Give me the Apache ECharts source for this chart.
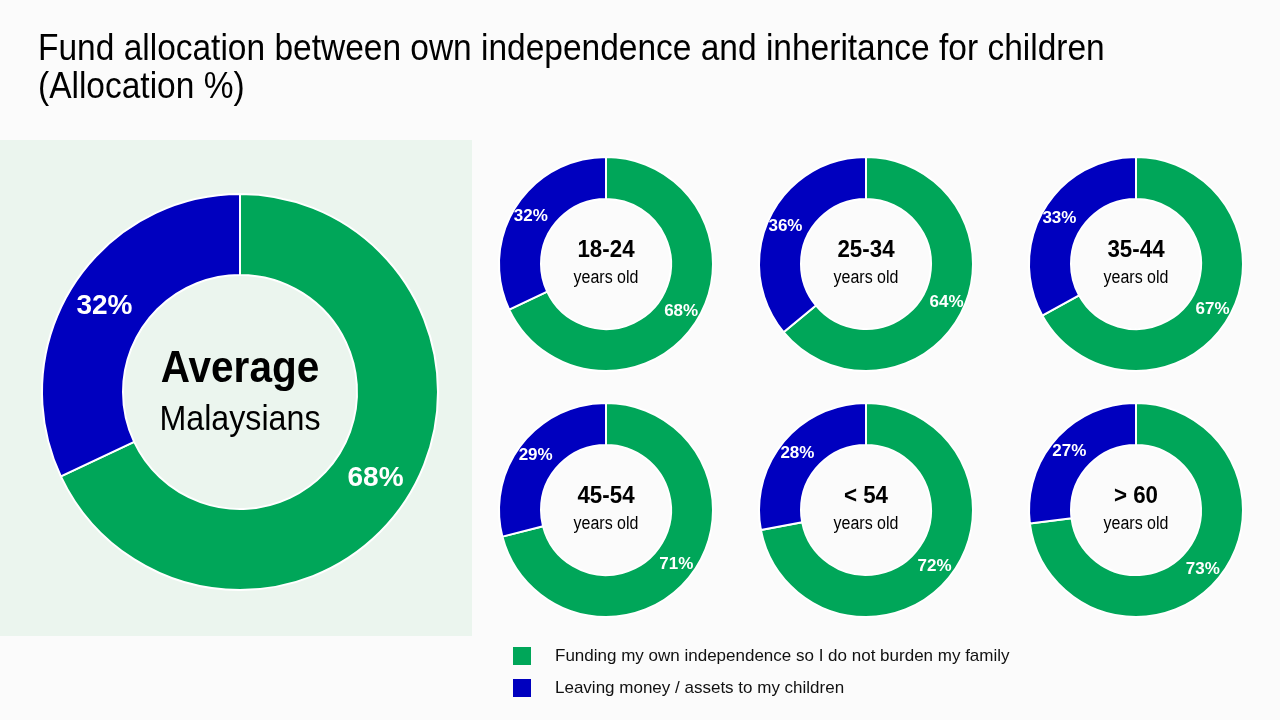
<!DOCTYPE html>
<html>
<head>
<meta charset="utf-8">
<script src="https://cdn.jsdelivr.net/npm/echarts@6/dist/echarts.min.js"></script>
<style>
  html, body { margin: 0; padding: 0; background: #fbfbfb; }
  #chart { width: 1280px; height: 720px; }
</style>
</head>
<body>
<div id="chart"></div>
<script>
const seriesNames = ['Funding my own independence so I do not burden my family', 'Leaving money / assets to my children'];
const seriesColors = ['#00a659', '#0000bf'];

const averageLabel = ['Average', 'Malaysians'];
const averageValues = [68, 32];

const ageGroups = ['18-24', '25-34', '35-44', '45-54', '< 54', '> 60'];
const ownIndependence = [68, 64, 67, 71, 72, 73];
const toChildren = [32, 36, 33, 29, 28, 27];

// no narrow font installed, so Liberation Sans is squeezed a bit horizontally
const FONT = "'Liberation Sans', Arial, sans-serif";

// donut positions
const smallCentersX = [606, 866, 1136];
const smallCentersY = [264, 510];

const chart = echarts.init(document.getElementById('chart'));

function donut(center, radius, values, labelSize) {
  return {
    type: 'pie',
    center: center,
    radius: radius,
    startAngle: 90,
    clockwise: true,
    silent: true,
    itemStyle: { borderColor: '#ffffff', borderWidth: 2 },
    label: {
      show: true,
      position: 'inside',
      formatter: '{c}%',
      color: '#ffffff',
      fontFamily: FONT,
      fontWeight: 'bold',
      fontSize: labelSize
    },
    labelLine: { show: false },
    data: values.map((v, i) => ({ name: seriesNames[i], value: v, itemStyle: { color: seriesColors[i] } }))
  };
}

function narrowText(x, y, text, size, bold, align, scale) {
  return {
    type: 'text', x: x, y: y, scaleX: scale,
    style: { text: text, fontFamily: FONT, fontWeight: bold ? 'bold' : 'normal', fontSize: size, fill: '#000', align: align, verticalAlign: 'middle' }
  };
}

const series = [donut([240, 392], [117, 198], averageValues, 28)];
const graphic = [
  { type: 'rect', z: -10, shape: { x: 0, y: 140, width: 472, height: 496 }, style: { fill: '#ebf5ee' } },
  narrowText(38, 50, 'Fund allocation between own independence and inheritance for children', 37, false, 'left', 0.905),
  narrowText(38, 88, '(Allocation %)', 37, false, 'left', 0.905),
  narrowText(240, 370, averageLabel[0], 45, true, 'center', 0.9),
  narrowText(240, 420, averageLabel[1], 35, false, 'center', 0.92)
];

ageGroups.forEach((g, i) => {
  const cx = smallCentersX[i % 3];
  const cy = smallCentersY[Math.floor(i / 3)];
  series.push(donut([cx, cy], [65, 107], [ownIndependence[i], toChildren[i]], 17));
  graphic.push(
    narrowText(cx, cy - 14, g, 24, true, 'center', 0.93),
    narrowText(cx, cy + 14, 'years old', 18, false, 'center', 0.89)
  );
});

chart.setOption({
  backgroundColor: '#fbfbfb',
  animation: false,
  legend: {
    orient: 'vertical',
    left: 513,
    top: 647,
    padding: 0,
    itemWidth: 18,
    itemHeight: 18,
    itemGap: 14,
    icon: 'rect',
    selectedMode: false,
    itemStyle: { borderWidth: 0 },
    textStyle: { fontFamily: FONT, fontSize: 17, color: '#111', padding: [0, 0, 0, 19] },
    data: seriesNames.map((n, i) => ({ name: n, itemStyle: { color: seriesColors[i] } }))
  },
  graphic: graphic,
  series: series
});
</script>
</body>
</html>
